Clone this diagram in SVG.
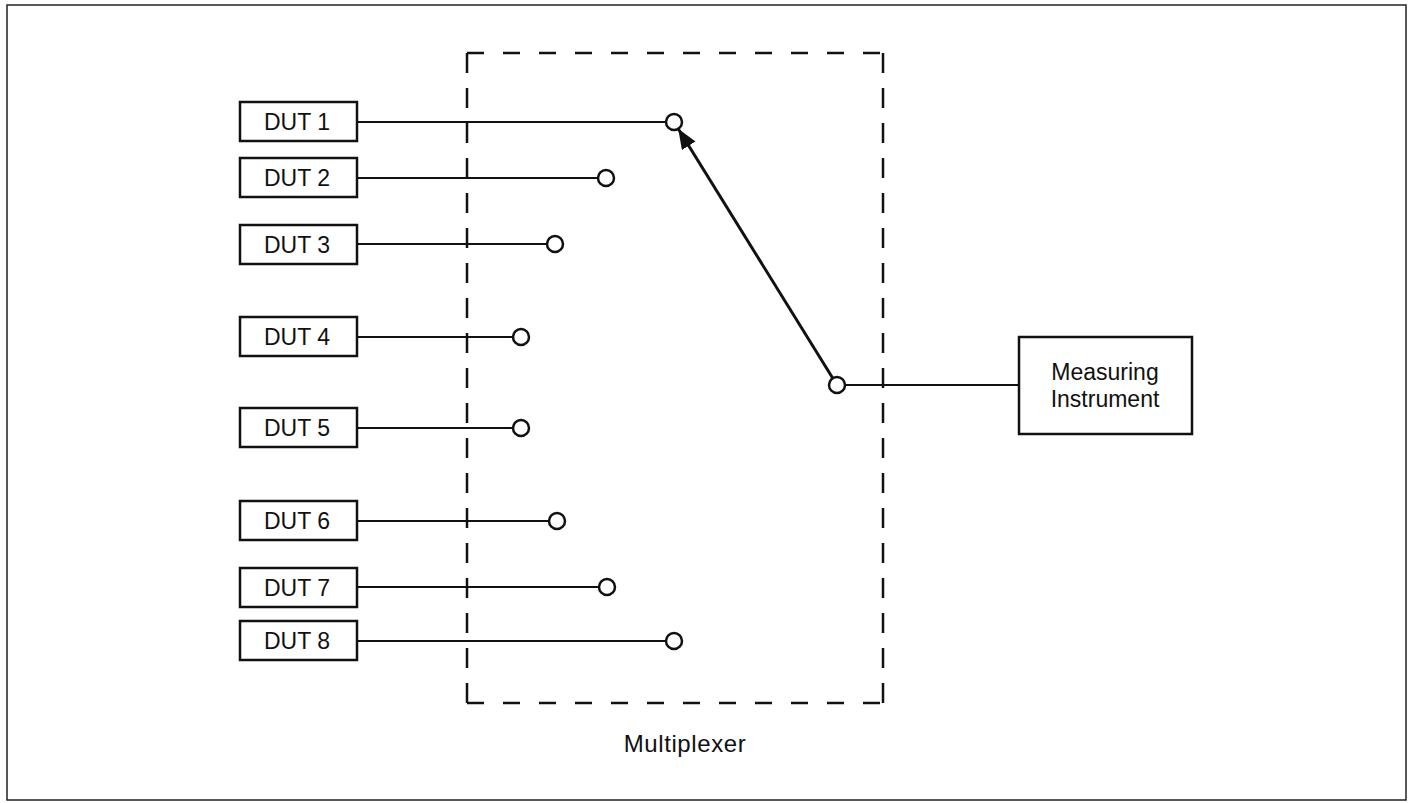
<svg xmlns="http://www.w3.org/2000/svg" width="1413" height="803" viewBox="0 0 1413 803">
  <style>
    .frame { fill: none; stroke: #222; stroke-width: 1.5; }
    .box { fill: #fff; stroke: #111; stroke-width: 2.5; }
    .lbl { font-family: "Liberation Sans", Arial, sans-serif; font-size: 23px; fill: #111; text-anchor: middle; }
    .wire { stroke: #111; stroke-width: 2; fill: none; }
    .term { fill: #fff; stroke: #111; stroke-width: 2.5; }
    .mux-h { stroke: #111; stroke-width: 2.5; stroke-dasharray: 17 19; fill: none; }
    .mux-v { stroke: #111; stroke-width: 2.5; stroke-dasharray: 20 15; fill: none; }
    .arm { stroke: #111; stroke-width: 3; fill: none; }
  </style>
  <defs>
    <marker id="arrowhead" markerUnits="userSpaceOnUse" markerWidth="24" markerHeight="18" refX="20" refY="8" orient="auto">
      <path d="M0,0 L20,8 L0,16 Z" fill="#111"/>
    </marker>
  </defs>

  <rect width="1413" height="803" fill="#fff"/>
  <!-- outer frame -->
  <rect class="frame" x="7" y="5" width="1399" height="795"/>

  <!-- multiplexer enclosure -->
  <g id="multiplexer">
    <line class="mux-h" x1="467" y1="53" x2="883" y2="53"/>
    <line class="mux-h" x1="467" y1="703" x2="883" y2="703"/>
    <line class="mux-v" x1="467" y1="53" x2="467" y2="703"/>
    <line class="mux-v" x1="883" y1="53" x2="883" y2="703"/>
    <text class="lbl" x="685" y="752" style="font-size:24px; letter-spacing:0.6px">Multiplexer</text>
  </g>

  <!-- connectors -->
  <g id="connectors">
    <line class="wire" x1="357" y1="122" x2="666" y2="122"/>
    <line class="wire" x1="357" y1="178" x2="598" y2="178"/>
    <line class="wire" x1="357" y1="244" x2="547" y2="244"/>
    <line class="wire" x1="357" y1="337" x2="513" y2="337"/>
    <line class="wire" x1="357" y1="428" x2="513" y2="428"/>
    <line class="wire" x1="357" y1="521" x2="549" y2="521"/>
    <line class="wire" x1="357" y1="587" x2="599" y2="587"/>
    <line class="wire" x1="357" y1="641" x2="666" y2="641"/>
    <line class="wire" x1="845" y1="385" x2="1019" y2="385"/>
    <!-- switch arm -->
    <line class="arm" x1="832.8" y1="378.2" x2="678.2" y2="128.8" marker-end="url(#arrowhead)"/>
  </g>

  <!-- switch terminals -->
  <g id="terminals">
    <circle class="term" cx="674" cy="122" r="8"/>
    <circle class="term" cx="606" cy="178" r="8"/>
    <circle class="term" cx="555" cy="244" r="8"/>
    <circle class="term" cx="521" cy="337" r="8"/>
    <circle class="term" cx="521" cy="428" r="8"/>
    <circle class="term" cx="557" cy="521" r="8"/>
    <circle class="term" cx="607" cy="587" r="8"/>
    <circle class="term" cx="674" cy="641" r="8"/>
    <circle class="term" cx="837" cy="385" r="8"/>
  </g>

  <g id="dut1"><rect class="box" x="240" y="102" width="117" height="39"/><text class="lbl" x="297" y="130">DUT 1</text></g>
  <g id="dut2"><rect class="box" x="240" y="158" width="117" height="39"/><text class="lbl" x="297" y="186">DUT 2</text></g>
  <g id="dut3"><rect class="box" x="240" y="225" width="117" height="39"/><text class="lbl" x="297" y="253">DUT 3</text></g>
  <g id="dut4"><rect class="box" x="240" y="317" width="117" height="39"/><text class="lbl" x="297" y="345">DUT 4</text></g>
  <g id="dut5"><rect class="box" x="240" y="408" width="117" height="39"/><text class="lbl" x="297" y="436">DUT 5</text></g>
  <g id="dut6"><rect class="box" x="240" y="501" width="117" height="39"/><text class="lbl" x="297" y="529">DUT 6</text></g>
  <g id="dut7"><rect class="box" x="240" y="568" width="117" height="39"/><text class="lbl" x="297" y="596">DUT 7</text></g>
  <g id="dut8"><rect class="box" x="240" y="621" width="117" height="39"/><text class="lbl" x="297" y="649">DUT 8</text></g>

  <g id="measuring-instrument">
    <rect class="box" x="1019" y="337" width="173" height="97"/>
    <text class="lbl" x="1105" y="380">Measuring</text>
    <text class="lbl" x="1105" y="407">Instrument</text>
  </g>
</svg>
